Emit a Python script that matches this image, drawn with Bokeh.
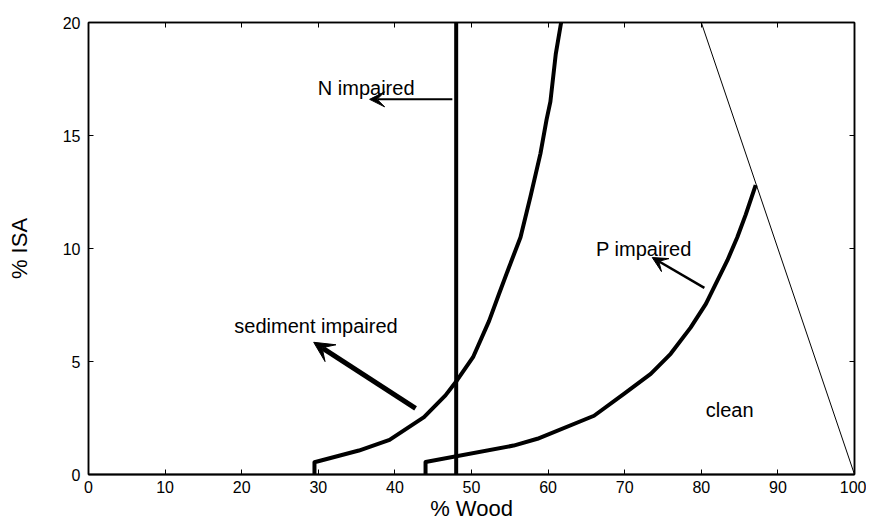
from bokeh.plotting import figure
from bokeh.models import (Arrow, VeeHead, Label, LinearAxis, Range1d,
                          FixedTicker, CustomJSTickFormatter)
from bokeh.embed import file_html
from bokeh.resources import INLINE

# ---- data ----
x_ticks = [0, 10, 20, 30, 40, 50, 60, 70, 80, 90, 100]
y_ticks = [0, 5, 10, 15, 20]

# sediment threshold curve (% Wood vs % ISA)
sed_wood = [29.5, 29.5, 35.3, 39.3, 43.8, 46.6, 48.1, 50.2, 52.3, 53.6, 54.9,
            56.4, 57.7, 59.0, 59.8, 60.3, 61.0, 61.7]
sed_isa = [0.0, 0.54, 1.06, 1.53, 2.54, 3.5, 4.16, 5.19, 6.8, 8.0, 9.17,
           10.5, 12.3, 14.2, 15.7, 16.5, 18.6, 20.0]

# phosphorus threshold curve
p_wood = [44.0, 44.0, 55.5, 58.6, 66.0, 69.9, 73.4, 76.0, 78.6, 80.6, 83.4,
          84.7, 85.8, 87.1]
p_isa = [0.0, 0.55, 1.28, 1.58, 2.6, 3.57, 4.45, 5.34, 6.5, 7.55, 9.47,
         10.5, 11.5, 12.8]

# nitrogen threshold (vertical line)
n_wood = [48.0, 48.0]
n_isa = [0.0, 20.0]

# clean boundary (thin line)
clean_wood = [80.0, 100.0]
clean_isa = [20.0, 0.0]

# annotations
label_texts = ["N impaired", "sediment impaired", "P impaired", "clean"]
label_wood = [36.25, 29.7, 72.5, 83.7]
label_isa = [17.08, 6.55, 9.99, 2.86]

arrow_start_wood = [47.5, 42.7, 80.4]
arrow_start_isa = [16.6, 2.93, 8.26]
arrow_end_wood = [36.7, 29.4, 73.6]
arrow_end_isa = [16.6, 5.85, 9.6]
arrow_widths = [2, 5, 2.5]
arrow_head_sizes = [15, 20, 15]

FONT = "Liberation Sans"

p = figure(width=866, height=525,
           x_range=Range1d(0, 100), y_range=Range1d(0, 20),
           output_backend="svg", toolbar_location=None,
           min_border_left=88, min_border_right=12,
           min_border_top=22, min_border_bottom=51)
p.grid.visible = False
p.outline_line_color = "black"
p.outline_line_width = 1.5
p.background_fill_color = "white"
p.border_fill_color = "white"

for ax in (p.xaxis[0], p.yaxis[0]):
    ax.major_tick_in = 5
    ax.major_tick_out = 0
    ax.minor_tick_line_color = None
    ax.axis_line_color = "black"
    ax.axis_line_width = 1.5
    ax.major_tick_line_width = 1
    ax.major_label_text_font = FONT
    ax.major_label_text_font_size = "16px"
    ax.major_label_text_color = "black"
    ax.axis_label_text_font = FONT
    ax.axis_label_text_font_size = "22px"
    ax.axis_label_text_font_style = "normal"
    ax.axis_label_text_color = "black"

p.xaxis[0].ticker = FixedTicker(ticks=x_ticks)
p.yaxis[0].ticker = FixedTicker(ticks=y_ticks)
p.xaxis[0].axis_line_width = 2
p.xaxis[0].axis_label = "% Wood"
p.yaxis[0].axis_label = "% ISA"
p.xaxis[0].major_label_standoff = 6
p.xaxis[0].axis_label_standoff = 0
p.yaxis[0].major_label_standoff = 8
p.yaxis[0].axis_label_standoff = 28

for side, ticks in (("above", x_ticks), ("right", y_ticks)):
    ax = LinearAxis(ticker=FixedTicker(ticks=ticks),
                    formatter=CustomJSTickFormatter(code="return ''"))
    ax.major_tick_in = 5
    ax.major_tick_out = 0
    ax.minor_tick_line_color = None
    ax.axis_line_color = "black"
    ax.axis_line_width = 1.5
    ax.major_tick_line_color = "black"
    ax.major_label_standoff = 0
    ax.major_label_text_font_size = "1px"
    p.add_layout(ax, side)

# curves
p.line(clean_wood, clean_isa, line_color="black", line_width=1)
p.line(sed_wood, sed_isa, line_color="black", line_width=4, line_join="round")
p.line(p_wood, p_isa, line_color="black", line_width=4, line_join="round")
p.line(n_wood, n_isa, line_color="black", line_width=4)

# arrows
for xs, ys, xe, ye, w, hs in zip(arrow_start_wood, arrow_start_isa,
                                 arrow_end_wood, arrow_end_isa,
                                 arrow_widths, arrow_head_sizes):
    p.add_layout(Arrow(end=VeeHead(size=hs, fill_color="black",
                                   line_color="black", line_width=1),
                       x_start=xs, y_start=ys, x_end=xe, y_end=ye,
                       line_width=w, line_color="black"))

# labels
for t, x, y in zip(label_texts, label_wood, label_isa):
    p.add_layout(Label(x=x, y=y, text=t, text_align="center",
                       text_baseline="alphabetic", text_font=FONT,
                       text_font_size="20px", text_color="black"))

open("out.html", "w").write(file_html(p, INLINE))
